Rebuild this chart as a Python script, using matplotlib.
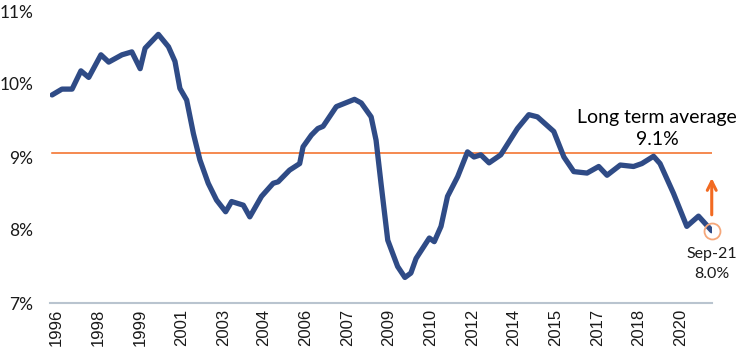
import numpy as np
import matplotlib.pyplot as plt

# data (decimal year, percent)
years = [1996.31, 1996.69, 1997.08, 1997.42, 1997.72, 1998.19, 1998.49, 1999.00,
         1999.38, 1999.70, 1999.89, 2000.40, 2000.79, 2001.04, 2001.23, 2001.49,
         2001.75, 2002.00, 2002.32, 2002.64, 2002.99, 2003.22, 2003.67, 2003.92,
         2004.37, 2004.82, 2005.01, 2005.45, 2005.84, 2005.97, 2006.29, 2006.54,
         2006.74, 2007.25, 2007.95, 2008.21, 2008.59, 2008.78, 2008.97, 2009.23,
         2009.61, 2009.89, 2010.12, 2010.32, 2010.83, 2011.02, 2011.28, 2011.53,
         2011.92, 2012.30, 2012.55, 2012.81, 2013.13, 2013.58, 2014.22, 2014.66,
         2014.99, 2015.62, 2016.01, 2016.39, 2016.90, 2017.35, 2017.67, 2018.18,
         2018.69, 2019.01, 2019.46, 2019.71, 2020.23, 2020.74, 2021.19, 2021.70]
values = [9.85, 9.93, 9.93, 10.18, 10.09, 10.40, 10.30, 10.40,
          10.44, 10.21, 10.49, 10.68, 10.51, 10.31, 9.94, 9.78,
          9.32, 8.96, 8.64, 8.41, 8.25, 8.39, 8.34, 8.18,
          8.46, 8.64, 8.66, 8.82, 8.91, 9.14, 9.30, 9.39,
          9.42, 9.69, 9.79, 9.74, 9.55, 9.23, 8.64, 7.86,
          7.50, 7.35, 7.41, 7.61, 7.89, 7.84, 8.05, 8.46,
          8.73, 9.07, 9.00, 9.03, 8.92, 9.03, 9.39, 9.58,
          9.55, 9.35, 9.00, 8.80, 8.78, 8.87, 8.75, 8.89,
          8.87, 8.91, 9.01, 8.91, 8.50, 8.05, 8.19, 7.99]

long_term_avg = 9.05
tick_pos = [1996.46, 1998.08, 1999.69, 2001.30, 2002.91, 2004.45, 2006.06, 2007.67,
            2009.28, 2010.89, 2012.50, 2014.08, 2015.69, 2017.30, 2018.88, 2020.49]
tick_labels = ['1996', '1998', '1999', '2001', '2003', '2004', '2006', '2007',
               '2009', '2010', '2012', '2014', '2015', '2017', '2018', '2020']

navy = '#2f4b86'
orange = '#f26a21'
txt = '#1a1a1a'

fig = plt.figure(figsize=(7.44, 3.56), dpi=100)
ax = fig.add_axes([50/744, 1-303/356, 662/744, 292/356])

# long term average
ax.plot([years[0], years[-1]], [long_term_avg, long_term_avg], color=orange, lw=1.1, zorder=1)

ax.plot(years, values, color=navy, lw=3.8, solid_joinstyle='round',
        solid_capstyle='round', zorder=2)

# latest point circle + arrow
ax.plot(years[-1], values[-1], 'o', mfc='none', mec='#f5a77a', mew=1.3, ms=11.5,
        zorder=3, clip_on=False)
ax.annotate('', xy=(years[-1], 8.75), xytext=(years[-1], 8.17),
            arrowprops=dict(arrowstyle='->', color=orange, lw=2.2,
                            mutation_scale=16))

ax.text(2019.6, 9.54, 'Long term average', ha='center', va='center',
        fontsize=14, family='Lato', color='black')
ax.text(2019.6, 9.24, '9.1%', ha='center', va='center',
        fontsize=14, family='Lato', color='black')
ax.text(years[-1], 7.67, 'Sep-21', ha='center', va='center',
        fontsize=11.5, family='Lato', color=txt)
ax.text(years[-1], 7.40, '8.0%', ha='center', va='center',
        fontsize=11.5, family='Lato', color=txt)

ax.set_xlim(years[0] - 0.08, years[-1] + 0.01)
ax.set_ylim(7, 11)
ax.set_yticks([7, 8, 9, 10, 11])
ax.set_yticklabels(['7%', '8%', '9%', '10%', '11%'], family='Lato', fontsize=12.5, color=txt)
ax.set_xticks(tick_pos)
ax.set_xticklabels(tick_labels, rotation=90, family='Liberation Sans', fontsize=12, color=txt)
ax.tick_params(length=0, pad=4)
ax.tick_params(axis='y', pad=12)

for s in ['top', 'right', 'left']:
    ax.spines[s].set_visible(False)
ax.spines['bottom'].set_color('#b9c4cf')
ax.spines['bottom'].set_linewidth(1.5)

fig.savefig('out.png', dpi=100)
